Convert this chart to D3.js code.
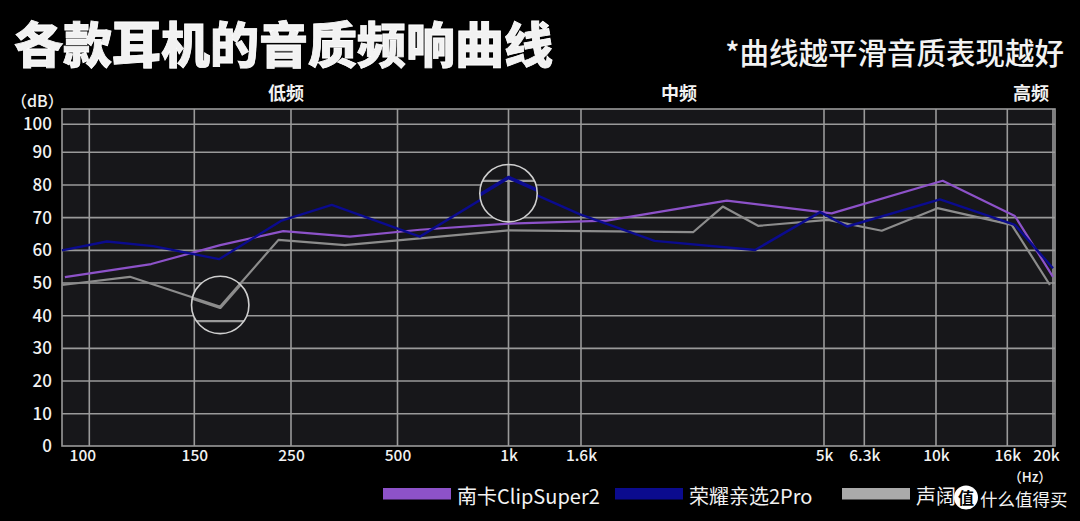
<!DOCTYPE html>
<html>
<head>
<meta charset="utf-8">
<title>各款耳机的音质频响曲线</title>
<script src="https://cdn.jsdelivr.net/npm/d3@7"></script>
<style>
  body { margin: 0; background: #000; }
  text { font-family: "Noto Sans CJK SC", "Noto Sans", sans-serif; fill: #f2f2f2; }
</style>
</head>
<body>
<script>
// ---- data ----
var freqTicks = [100, 150, 250, 500, 1000, 1600, 5000, 6300, 10000, 16000, 20000]
var freqLabels = ["100", "150", "250", "500", "1k", "1.6k", "5k", "6.3k", "10k", "16k", "20k"]
var dbTicks = [0, 10, 20, 30, 40, 50, 60, 70, 80, 90, 100]
var bandNames = ["低频", "中频", "高频"]

var seriesNames = ["南卡ClipSuper2", "荣耀亲选2Pro", "声阔"]

var nankaFreq = [91, 127, 172, 240, 367, 575, 1000, 1805, 3170, 5226, 10450, 16600, 20000]
var nankaDb   = [51.8, 55.8, 61.6, 65.9, 64.2, 66.3, 68.2, 69.1, 75.2, 71.3, 81.3, 70.5, 51.9]

var honorFreq = [90, 107, 128, 171, 238, 326, 575, 1000, 1590, 2260, 3620, 4910, 5710, 10270, 16600, 20000]
var honorDb   = [60, 62.7, 61.3, 57.3, 69.1, 73.9, 64.2, 80.7, 71, 62.9, 60.1, 71.7, 67.3, 75.6, 67.8, 54.5]

var grayFreq = [90, 117, 172, 234, 355, 1000, 2710, 3110, 3670, 5115, 7050, 10100, 16350, 19700]
var grayDb   = [49.4, 51.9, 42.8, 63.2, 61.6, 66.1, 65.6, 73.4, 67.5, 69.3, 66.0, 72.9, 67.8, 49.4]

// magnifier circles (centre in data units)
var magnifyFreq = [172, 1000]
var magnifyDb = [43.3, 77.5]

// ---- layout ----
var width = 1080, height = 521
var plot = {left: 62, right: 1055, top: 109, bottom: 446}
var xTickPos = [89.3, 194.3, 291, 397.5, 508.5, 581, 824, 864.3, 936, 1007.3, 1053]
var bandX = [286, 679, 1031]
var colors = ["#8d52c9", "#0b0b8e", "#8c8c8c"]
var legendColors = ["#8d52c9", "#0b0b8e", "#aaaaaa"]

var svg = d3.select("body").append("svg")
    .attr("width", width).attr("height", height)

svg.append("rect").attr("width", width).attr("height", height).attr("fill", "#000")

var x = d3.scaleLog().domain(freqTicks).range(xTickPos)
var y = d3.scaleLinear().domain([0, 90, 100]).range([446.4, 152.3, 124.3])

var series = [
    {freq: nankaFreq, db: nankaDb},
    {freq: honorFreq, db: honorDb},
    {freq: grayFreq, db: grayDb}
]
var drawOrder = [2, 0, 1]

var line = d3.line()
    .x(function(d) { return x(d[0]) })
    .y(function(d) { return y(d[1]) })

function drawPlot(g) {
    g.append("rect")
        .attr("x", plot.left).attr("y", plot.top)
        .attr("width", plot.right - plot.left).attr("height", plot.bottom - plot.top)
        .attr("fill", "#17171a")

    g.selectAll(".vgrid").data(freqTicks).enter().append("line")
        .attr("x1", function(d) { return x(d) }).attr("x2", function(d) { return x(d) })
        .attr("y1", plot.top).attr("y2", plot.bottom)
        .attr("stroke", "#9a9a9a").attr("stroke-width", 1.6)

    g.selectAll(".hgrid").data(dbTicks.filter(function(d) { return d > 0 })).enter().append("line")
        .attr("x1", plot.left).attr("x2", plot.right)
        .attr("y1", function(d) { return y(d) }).attr("y2", function(d) { return y(d) })
        .attr("stroke", "#9a9a9a").attr("stroke-width", 1.6)

    g.append("rect")
        .attr("x", plot.left).attr("y", plot.top)
        .attr("width", plot.right - plot.left).attr("height", plot.bottom - plot.top)
        .attr("fill", "none").attr("stroke", "#9a9a9a").attr("stroke-width", 1.6)

    drawOrder.forEach(function(i) {
        var s = series[i]
        g.append("path")
            .attr("d", line(d3.zip(s.freq, s.db)))
            .attr("fill", "none")
            .attr("stroke", colors[i])
            .attr("stroke-width", i == 1 ? 2.4 : 2.2)
            .attr("stroke-linejoin", "round")
    })
}

drawPlot(svg.append("g"))

// magnifier lenses
var k = 1.5, lensR = 28.7
magnifyFreq.forEach(function(f, i) {
    var cx = x(f), cy = y(magnifyDb[i])
    svg.append("clipPath").attr("id", "lens" + i)
        .append("circle").attr("cx", cx).attr("cy", cy).attr("r", lensR)
    var inner = svg.append("g").attr("clip-path", "url(#lens" + i + ")")
        .append("g")
        .attr("transform", "translate(" + cx + "," + cy + ") scale(" + k + ") translate(" + (-cx) + "," + (-cy) + ")")
    drawPlot(inner)
    svg.append("circle").attr("cx", cx).attr("cy", cy).attr("r", lensR)
        .attr("fill", "none").attr("stroke", "#cfcfcf").attr("stroke-width", 1.6)
})

// axes
var yAxis = svg.append("g")
    .attr("transform", "translate(" + plot.left + ",0)")
    .call(d3.axisLeft(y).tickValues(dbTicks).tickSize(0).tickPadding(10))
yAxis.select(".domain").remove()
yAxis.selectAll("text")
    .attr("font-size", 17).attr("font-weight", 500).attr("fill", "#f2f2f2")
    .style("font-family", "'Noto Sans CJK SC', sans-serif")

var xAxis = svg.append("g")
    .attr("transform", "translate(0," + plot.bottom + ")")
    .call(d3.axisBottom(x).tickValues(freqTicks)
        .tickFormat(function(d, i) { return freqLabels[i] })
        .tickSize(0).tickPadding(4))
xAxis.select(".domain").remove()
xAxis.selectAll("text")
    .attr("font-size", 15.5).attr("font-weight", 500).attr("fill", "#f2f2f2")
    .style("font-family", "'Noto Sans CJK SC', sans-serif")
    .attr("dx", function(d, i) { return i == 0 ? -7 : (i == freqTicks.length - 1 ? -7 : 0) })

// titles
svg.append("text").attr("x", 14).attr("y", 63)
    .attr("font-size", 49).attr("font-weight", 900)
    .style("stroke", "#fff").style("stroke-width", 0.8)
    .text("各款耳机的音质频响曲线")

svg.append("text").attr("x", 1064).attr("y", 64)
    .attr("text-anchor", "end")
    .attr("font-size", 29.5).attr("font-weight", 500)
    .text("*曲线越平滑音质表现越好")

svg.selectAll(".band").data(bandNames).enter().append("text")
    .attr("x", function(d, i) { return bandX[i] })
    .attr("y", 100)
    .attr("text-anchor", "middle")
    .attr("font-size", 18).attr("font-weight", 700)
    .text(function(d) { return d })

svg.append("text").attr("x", 11).attr("y", 107)
    .attr("font-size", 16).attr("font-weight", 500)
    .text("（dB）")

svg.append("text").attr("x", 1030).attr("y", 481.5)
    .attr("text-anchor", "middle")
    .attr("font-size", 13.5).attr("font-weight", 500)
    .text("（Hz）")

// legend
var legendX = [383, 615, 842]
seriesNames.forEach(function(name, i) {
    svg.append("rect")
        .attr("x", legendX[i]).attr("y", 488)
        .attr("width", 68).attr("height", 11.5)
        .attr("fill", legendColors[i])
    svg.append("text")
        .attr("x", legendX[i] + 74).attr("y", 504)
        .attr("font-size", 20)
        .text(name)
})

// watermark
svg.append("circle").attr("cx", 966).attr("cy", 497.5).attr("r", 12).attr("fill", "#fff")
svg.append("text").attr("x", 966).attr("y", 503.5).attr("text-anchor", "middle")
    .attr("font-size", 16).attr("font-weight", 700).style("fill", "#000")
    .text("值")
svg.append("text").attr("x", 980).attr("y", 506)
    .attr("font-size", 17.5)
    .text("什么值得买")
</script>
</body>
</html>
